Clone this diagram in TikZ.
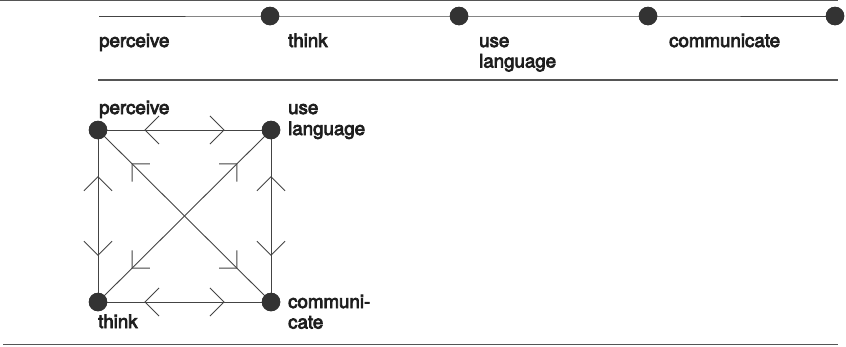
\documentclass[tikz,border=0pt]{standalone}
\usepackage{fontspec}
\newfontfamily\lblfont[FakeBold=4]{TeX Gyre Heros}
\usetikzlibrary{decorations.markings}
\definecolor{rulegray}{HTML}{555555}
\definecolor{linegray}{HTML}{444444}
\definecolor{dotgray}{HTML}{333333}
\definecolor{textgray}{HTML}{1e1e1e}
\tikzset{
  rule/.style={draw=rulegray, line width=1.1pt},
  link/.style={draw=linegray, line width=0.9pt},
  dot/.style={circle, fill=dotgray, minimum size=18.5pt, inner sep=0pt},
  lbl/.style={anchor=base west, inner sep=0pt, text=textgray, font=\lblfont\fontsize{18.7}{21}\selectfont},
  chevpair/.style n args={3}{postaction={decorate, decoration={markings,
    mark=at position #1 with {\draw[linegray, line width=0.9pt] (#3pt,#3pt) -- (0pt,0pt) -- (#3pt,-#3pt);},
    mark=at position #2 with {\draw[linegray, line width=0.9pt] (-#3pt,#3pt) -- (0pt,0pt) -- (-#3pt,-#3pt);}}}},
  sidearrows/.style={chevpair={0.272}{0.728}{14}},
  diagarrows/.style={chevpair={0.197}{0.803}{12.5}}
}
\begin{document}
\begin{tikzpicture}[x=1pt,y=-1pt]
\useasboundingbox (0,0) rectangle (846,346);
% rules
\coordinate (r1a) at (0,0.8);   \coordinate (r1b) at (838,0.8);
\coordinate (r2a) at (98,80);   \coordinate (r2b) at (838,80);
\coordinate (r3a) at (3,344.5); \coordinate (r3b) at (838,344.5);
\draw[rule] (r1a) -- (r1b);
\draw[rule] (r2a) -- (r2b);
\draw[rule] (r3a) -- (r3b);
% timeline
\coordinate (tstart) at (99,16);
\node[dot] (td1) at (270,16) {};
\node[dot] (td2) at (459,16) {};
\node[dot] (td3) at (648,16) {};
\node[dot] (td4) at (835,16) {};
\draw[link] (tstart) -- (td1.center) -- (td2.center) -- (td3.center) -- (td4.center);
\node[dot] at (td1) {};
\node[dot] at (td2) {};
\node[dot] at (td3) {};
\node[dot] at (td4) {};
\node[lbl] (tl1) at (99,47) {perceive};
\node[lbl] (tl2) at (288,47) {think};
\node[lbl] (tl3a) at (479,47) {use};
\node[lbl] (tl3b) at (479,67.5) {language};
\node[lbl] (tl4) at (669,47) {communicate};
% square
\node[dot] (p) at (98,130) {};
\node[dot] (u) at (271,130) {};
\node[dot] (t) at (98,302) {};
\node[dot] (c) at (271,302) {};
\draw[link, sidearrows] (p.center) -- (u.center);
\draw[link, sidearrows] (t.center) -- (c.center);
\draw[link, sidearrows] (p.center) -- (t.center);
\draw[link, sidearrows] (u.center) -- (c.center);
\draw[link, diagarrows] (p.center) -- (c.center);
\draw[link, diagarrows] (t.center) -- (u.center);
\node[dot] at (p) {};
\node[dot] at (u) {};
\node[dot] at (t) {};
\node[dot] at (c) {};
\node[lbl] (lp) at (99,114) {perceive};
\node[lbl] (lu1) at (288,114) {use};
\node[lbl] (lu2) at (288,135) {language};
\node[lbl] (lt) at (98,328) {think};
\node[lbl] (lc1) at (288,308) {communi-};
\node[lbl] (lc2) at (288,328.5) {cate};
\end{tikzpicture}
\end{document}
